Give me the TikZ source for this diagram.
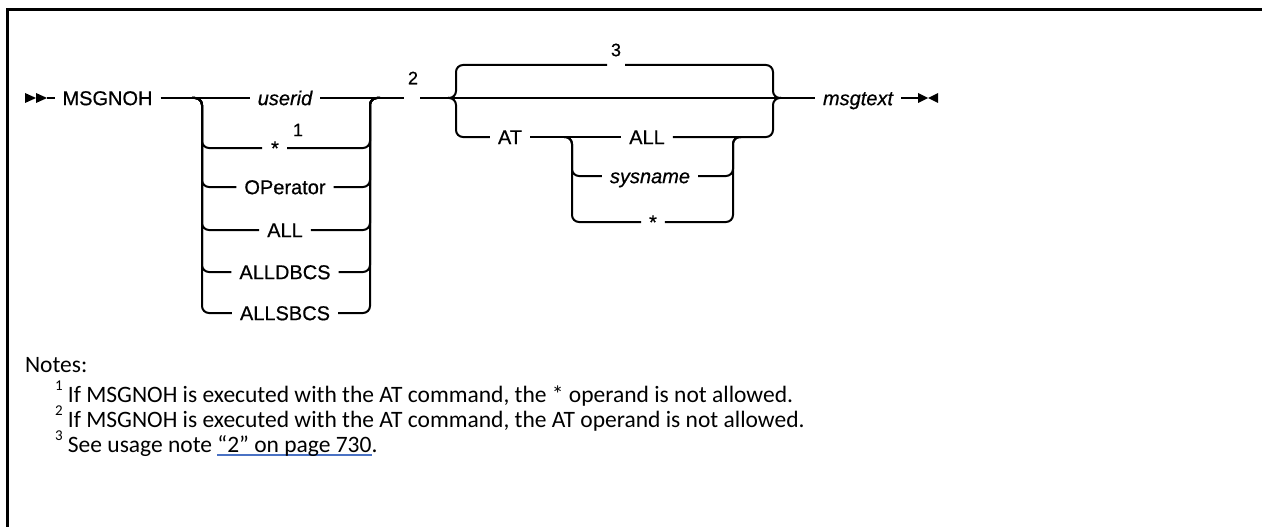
\documentclass[tikz,border=0pt]{standalone}
\usepackage{fontspec}
\setmainfont{Liberation Sans}
\newfontfamily\lblfont[FakeBold=0.6]{Liberation Sans}
\newfontfamily\notefont{Carlito}
\definecolor{linkblue}{HTML}{4A72C4}
\newcommand{\fnsup}[1]{\raisebox{0.5em}{\fontsize{15}{15}\selectfont #1}}
\newcommand{\linkul}[1]{{\setbox0\hbox{#1}\rlap{\color{linkblue}\rule[-3.5pt]{\wd0}{1.2pt}}\box0}}
\begin{document}
\begin{tikzpicture}[x=1pt,y=-1pt,line width=2pt,
  rr/.style={line width=2pt,rounded corners=7pt},
  lbl/.style={font=\lblfont\fontsize{20}{24}\selectfont,text height=14.3pt,text depth=0pt,inner xsep=7pt,inner ysep=0pt,anchor=center},
  ilbl/.style={lbl,font=\lblfont\fontsize{20}{24}\selectfont\itshape},
  fnm/.style={font=\lblfont\fontsize{18}{20}\selectfont,inner sep=0pt},
  note/.style={font=\notefont\fontsize{23.5}{26}\selectfont,anchor=base west,inner sep=0pt}]
\useasboundingbox (0,0) rectangle (1262,527);
% frame
\draw[line width=3pt] (7,530) -- (7,10) -- (1265,10);
% start marker
\fill (25,93) -- (36,98) -- (25,103) -- cycle;
\fill (36,93) -- (47,98) -- (36,103) -- cycle;
% nodes
\node[lbl] (cmd) at (107.5,98) {MSGNOH};
\node[ilbl] (userid) at (285,98) {userid};
\node[lbl] (star1) at (275,148) {*};
\node[fnm] (fn1) at (298,130) {1};
\node[lbl] (oper) at (285,187) {OPerator};
\node[lbl] (all1) at (285,230) {ALL};
\node[lbl] (alldb) at (285,272) {ALLDBCS};
\node[lbl] (allsb) at (285,313) {ALLSBCS};
\node[fnm] (fn2) at (413,78) {2};
\node[fnm] (fn3) at (616,50) {3};
\node[lbl] (at) at (510,137) {AT};
\node[lbl] (all2) at (647,137) {ALL};
\node[ilbl] (sysn) at (650,176) {sysname};
\node[lbl] (star2) at (653,222) {*};
\node[ilbl] (msg) at (858,98) {msgtext};
\coordinate (endm) at (918,98);
% main line
\draw (47,98) -- (cmd.west);
\draw (cmd.east) -- (userid.west);
\draw (userid.east) -- (404,98);
\draw (420,98) -- (msg.west);
\draw (msg.east) -- (endm);
\fill (918,93) -- (928,98) -- (918,103) -- cycle;
\fill (938,93) -- (928,98) -- (938,103) -- cycle;
% left group
\draw[rr] (192,98) -- (202,98) -- (202,148) -- (262,148);
\draw[rr] (287,148) -- (370,148) -- (370,98) -- (380,98);
\foreach \n/\r in {oper/187,all1/230,alldb/272,allsb/313}{
  \draw[rr] (192,98) -- (202,98) -- (202,\r) -- (\n.west);
  \draw[rr] (\n.east) -- (370,\r) -- (370,98) -- (380,98);
}
% brace group
\draw[rr] (448,98) -- (456,98) -- (456,65) -- (607,65);
\draw[rr] (625,65) -- (773,65) -- (773,98) -- (781,98);
\draw[rr] (448,98) -- (456,98) -- (456,137) -- (at.west);
\draw (at.east) -- (all2.west);
\draw[rr] (all2.east) -- (773,137) -- (773,98) -- (781,98);
\draw[rr] (564,137) -- (572,137) -- (572,176) -- (sysn.west);
\draw[rr] (sysn.east) -- (733,176) -- (733,137) -- (741,137);
\draw[rr] (564,137) -- (572,137) -- (572,222) -- (star2.west);
\draw[rr] (star2.east) -- (733,222) -- (733,137) -- (741,137);
% notes
\node[note] (notes) at (24,372) {Notes:};
\node[note] (n1) at (54,402) {\fnsup{1} If MSGNOH is executed with the AT command, the * operand is not allowed.};
\node[note] (n2) at (54,427) {\fnsup{2} If MSGNOH is executed with the AT command, the AT operand is not allowed.};
\node[note] (n3) at (54,452) {\fnsup{3} See usage note \linkul{“2” on page 730}.};
\end{tikzpicture}
\end{document}
